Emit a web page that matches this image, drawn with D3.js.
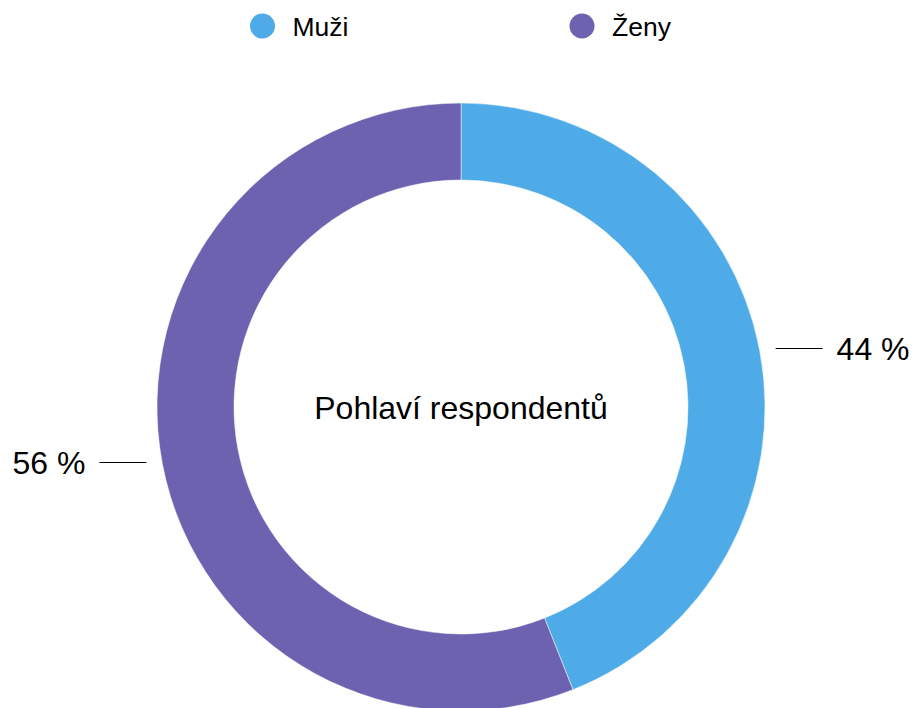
<!DOCTYPE html>
<html>
<head>
<meta charset="utf-8">
<script src="https://cdn.jsdelivr.net/npm/d3@7"></script>
<style>
  html, body { margin: 0; padding: 0; background: #fff; }
  svg { display: block; font-family: "Helvetica Neue", Helvetica, "Liberation Sans", Arial, sans-serif; }
</style>
</head>
<body>
<div id="chart"></div>
<script>
const categories = ['Muži', 'Ženy'];
const values = [44, 56];
const colors = ['#4eabe8', '#6c62b0'];
const centerTitle = 'Pohlaví respondentů';

const width = 914, height = 708;
const cx = 461, cy = 407;
const outerR = 304, innerR = 227;

const svg = d3.select('#chart')
  .append('svg')
  .attr('width', width)
  .attr('height', height);

const color = d3.scaleOrdinal().domain(categories).range(colors);

const pie = d3.pie().sort(null).value(d => d.value);
const data = categories.map((c, i) => ({ name: c, value: values[i] }));
const arcs = pie(data);

const arc = d3.arc().innerRadius(innerR).outerRadius(outerR);

const g = svg.append('g').attr('transform', `translate(${cx},${cy})`);

g.selectAll('path')
  .data(arcs)
  .join('path')
  .attr('d', arc)
  .attr('fill', d => color(d.data.name))
  .attr('stroke', '#fff')
  .attr('stroke-width', 0.5);

// labels with short horizontal leader lines
const labels = g.selectAll('g.label')
  .data(arcs)
  .join('g')
  .attr('class', 'label');

labels.each(function (d) {
  const mid = (d.startAngle + d.endAngle) / 2;
  const x = Math.sin(mid) * outerR;
  const y = Math.round(-Math.cos(mid) * outerR - 2) + 0.5;
  const side = x > 0 ? 1 : -1;
  const x1 = x + side * 16, x2 = x + side * 63;
  const sel = d3.select(this);
  sel.append('line')
    .attr('x1', x1).attr('x2', x2)
    .attr('y1', y).attr('y2', y)
    .attr('stroke', '#000')
    .attr('stroke-width', 1);
  sel.append('text')
    .attr('x', x2 + side * 14)
    .attr('y', y)
    .attr('dy', '0.36em')
    .attr('text-anchor', side > 0 ? 'start' : 'end')
    .attr('font-size', 32)
    .attr('fill', '#000')
    .text(`${d.data.value} %`);
});

g.append('text')
  .attr('text-anchor', 'middle')
  .attr('dy', '0.36em')
  .attr('font-size', 32)
  .attr('fill', '#000')
  .text(centerTitle);

// legend
const legendX = [262.5, 582];
const legend = svg.selectAll('g.legend')
  .data(categories)
  .join('g')
  .attr('class', 'legend')
  .attr('transform', (d, i) => `translate(${legendX[i]},26)`);

legend.append('circle')
  .attr('r', 12.5)
  .attr('fill', d => color(d));

legend.append('text')
  .attr('x', 30)
  .attr('dy', '0.36em')
  .attr('font-size', 26.5)
  .attr('fill', '#000')
  .text(d => d);
</script>
</body>
</html>
